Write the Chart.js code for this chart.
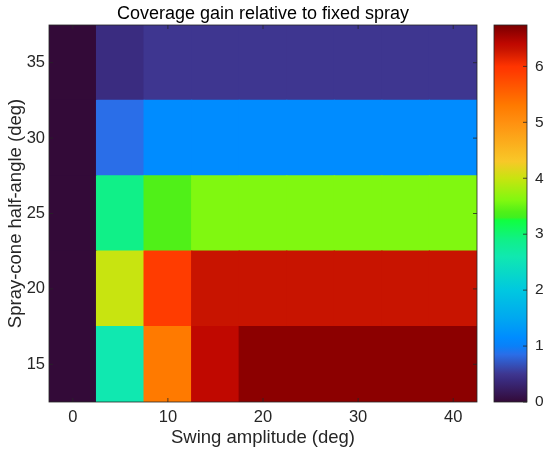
<!DOCTYPE html>
<html>
<head>
<meta charset="utf-8">
<script src="https://cdn.jsdelivr.net/npm/chart.js@4.4.1/dist/chart.umd.min.js"></script>
<style>
  html, body { margin: 0; padding: 0; background: #fff; }
  #wrap { position: relative; width: 550px; height: 456px; }
  #mainBox { position: absolute; left: 0; top: 0; width: 490px; height: 456px; }
  #barBox { position: absolute; left: 480px; top: 0; width: 70px; height: 456px; }
</style>
</head>
<body>
<div id="wrap">
  <div id="mainBox"><canvas id="heatmap"></canvas></div>
  <div id="barBox"><canvas id="colorbar"></canvas></div>
</div>
<script>
// swing amplitude (deg), columns
const swingAmp = [0, 5, 10, 15, 20, 25, 30, 35, 40];
// spray-cone half-angle (deg), rows
const coneAngle = [15, 20, 25, 30, 35];
// coverage gain per row (one array per cone angle)
const gain15 = [0, 2.6, 5.3, 6.4, 6.65, 6.65, 6.65, 6.65, 6.65];
const gain20 = [0, 4.0, 5.9, 6.3, 6.3, 6.3, 6.3, 6.3, 6.3];
const gain25 = [0, 2.9, 3.4, 3.6, 3.6, 3.6, 3.6, 3.6, 3.6];
const gain30 = [0, 0.85, 1.15, 1.15, 1.15, 1.15, 1.15, 1.15, 1.15];
const gain35 = [0, 0.4, 0.5, 0.5, 0.5, 0.5, 0.5, 0.5, 0.5];
const gainRows = [gain15, gain20, gain25, gain30, gain35];
const xTickLabels = [0, 10, 20, 30, 40];
const yTickLabels = [15, 20, 25, 30, 35];
const cbTickLabels = [0, 1, 2, 3, 4, 5, 6];
const cMin = 0;
const cMax = 6.74;

// colormap stops [value, colour]
const cmapStops = [
  [0, '#330a38'], [0.4, '#3a2c80'], [0.5, '#3e3690'], [0.85, '#2a6ee8'],
  [1.0, '#0a80f8'], [1.15, '#008cff'], [1.5, '#00a8f0'], [2.0, '#00c8e0'],
  [2.6, '#10e8b0'], [2.9, '#10f088'], [3.25, '#10ff40'], [3.3, '#40f020'],
  [3.4, '#50f018'], [3.6, '#80f810'], [4.0, '#c8e410'], [4.3, '#f8c828'],
  [5.0, '#ff9010'], [5.3, '#ff7a00'], [5.9, '#ff3c00'], [6.0, '#ff3400'],
  [6.3, '#c81400'], [6.4, '#c00800'], [6.65, '#8c0000'], [6.74, '#7a0000']
];

function hexToRgb(h) {
  return [parseInt(h.slice(1, 3), 16), parseInt(h.slice(3, 5), 16), parseInt(h.slice(5, 7), 16)];
}

function colormap(v) {
  if (v <= cmapStops[0][0]) return cmapStops[0][1];
  for (let i = 1; i < cmapStops.length; i++) {
    if (v <= cmapStops[i][0]) {
      const a = cmapStops[i - 1], b = cmapStops[i];
      const t = (v - a[0]) / (b[0] - a[0]);
      const ca = hexToRgb(a[1]), cb = hexToRgb(b[1]);
      const c = ca.map((x, k) => Math.round(x + (cb[k] - x) * t));
      return 'rgb(' + c.join(',') + ')';
    }
  }
  return cmapStops[cmapStops.length - 1][1];
}

const FONT = "'Liberation Sans', Arial, sans-serif";
const INK = '#262626';
const halfStep = (coneAngle[1] - coneAngle[0]) / 2;

// inner tick marks + axes box, MATLAB style
const boxTicks = {
  id: 'boxTicks',
  afterDatasetsDraw(chart) {
    const { ctx, chartArea: a, scales } = chart;
    ctx.save();
    ctx.strokeStyle = INK;
    ctx.lineWidth = 0.8;
    ctx.beginPath();
    xTickLabels.forEach(v => {
      const px = scales.x.getPixelForValue(swingAmp.indexOf(v));
      ctx.moveTo(px, a.bottom); ctx.lineTo(px, a.bottom - 4);
      ctx.moveTo(px, a.top); ctx.lineTo(px, a.top + 4);
    });
    yTickLabels.forEach(v => {
      const py = scales.y.getPixelForValue(v);
      ctx.moveTo(a.left, py); ctx.lineTo(a.left + 4, py);
      ctx.moveTo(a.right, py); ctx.lineTo(a.right - 4, py);
    });
    ctx.stroke();
    ctx.strokeRect(a.left, a.top, a.right - a.left, a.bottom - a.top);
    ctx.restore();
  }
};

const rowDatasets = coneAngle.map((y, r) => ({
  data: swingAmp.map(() => [y - halfStep, y + halfStep]),
  backgroundColor: gainRows[r].map(colormap),
  borderWidth: 0,
  inflateAmount: 0.6,
  grouped: false,
  barPercentage: 1,
  categoryPercentage: 1
}));

new Chart(document.getElementById('heatmap'), {
  type: 'bar',
  data: { labels: swingAmp.map(String), datasets: rowDatasets },
  options: {
    responsive: true,
    maintainAspectRatio: false,
    animation: false,
    layout: { padding: { left: 0, right: 13, top: 0, bottom: 0 } },
    plugins: {
      legend: { display: false },
      tooltip: { enabled: false },
      title: {
        display: true,
        fullSize: false,
        text: 'Coverage gain relative to fixed spray',
        color: '#000',
        font: { family: FONT, size: 18, weight: 'normal', lineHeight: 1.2 },
        padding: { top: 3.4, bottom: 0 }
      }
    },
    scales: {
      x: {
        type: 'category',
        grid: { display: false, drawTicks: false },
        border: { display: false },
        ticks: {
          autoSkip: false, maxRotation: 0, padding: 6, color: INK,
          font: { family: FONT, size: 16.5 },
          callback: (val, idx) => xTickLabels.includes(swingAmp[idx]) ? String(swingAmp[idx]) : ''
        },
        title: {
          display: true, text: 'Swing amplitude (deg)', color: INK,
          font: { family: FONT, size: 18.5 }, padding: { top: 2, bottom: 7 }
        },
        afterFit: s => { s.height = 54; }
      },
      y: {
        type: 'linear',
        min: coneAngle[0] - halfStep,
        max: coneAngle[coneAngle.length - 1] + halfStep,
        afterBuildTicks: s => { s.ticks = yTickLabels.map(v => ({ value: v })); },
        grid: { display: false, drawTicks: false },
        border: { display: false },
        ticks: { padding: 4, color: INK, font: { family: FONT, size: 16.5 } },
        title: {
          display: true, text: 'Spray-cone half-angle (deg)', color: INK,
          font: { family: FONT, size: 18.5 }, padding: { top: 5, bottom: 0 }
        },
        afterFit: s => { s.width = 49; }
      }
    }
  },
  plugins: [boxTicks]
});

// colour bar
const cbTicks = {
  id: 'cbTicks',
  afterDatasetsDraw(chart) {
    const { ctx, chartArea: a, scales } = chart;
    ctx.save();
    ctx.strokeStyle = INK;
    ctx.lineWidth = 0.8;
    ctx.beginPath();
    cbTickLabels.forEach(v => {
      const py = scales.y.getPixelForValue(v);
      ctx.moveTo(a.right, py); ctx.lineTo(a.right - 4, py);
    });
    ctx.stroke();
    ctx.strokeRect(a.left, a.top, a.right - a.left, a.bottom - a.top);
    ctx.restore();
  }
};

new Chart(document.getElementById('colorbar'), {
  type: 'bar',
  data: {
    labels: ['gain'],
    datasets: [{
      data: [[cMin, cMax]],
      borderWidth: 0,
      barPercentage: 1,
      categoryPercentage: 1,
      backgroundColor: (c) => {
        const chart = c.chart;
        if (!chart.chartArea) return '#888';
        const y = chart.scales.y;
        const y0 = y.getPixelForValue(cMin), y1 = y.getPixelForValue(cMax);
        const g = chart.ctx.createLinearGradient(0, y0, 0, y1);
        cmapStops.forEach(s => g.addColorStop((s[0] - cMin) / (cMax - cMin), s[1]));
        return g;
      }
    }]
  },
  options: {
    responsive: true,
    maintainAspectRatio: false,
    animation: false,
    layout: { padding: { left: 14, right: 0, top: 25, bottom: 54 } },
    plugins: { legend: { display: false }, tooltip: { enabled: false } },
    scales: {
      x: { display: false },
      y: {
        position: 'right',
        min: cMin,
        max: cMax,
        afterBuildTicks: s => { s.ticks = cbTickLabels.map(v => ({ value: v })); },
        grid: { display: false, drawTicks: false },
        border: { display: false },
        ticks: { padding: 8, color: INK, font: { family: FONT, size: 15.5 } },
        afterFit: s => { s.width = 23; }
      }
    }
  },
  plugins: [cbTicks]
});
</script>
</body>
</html>
